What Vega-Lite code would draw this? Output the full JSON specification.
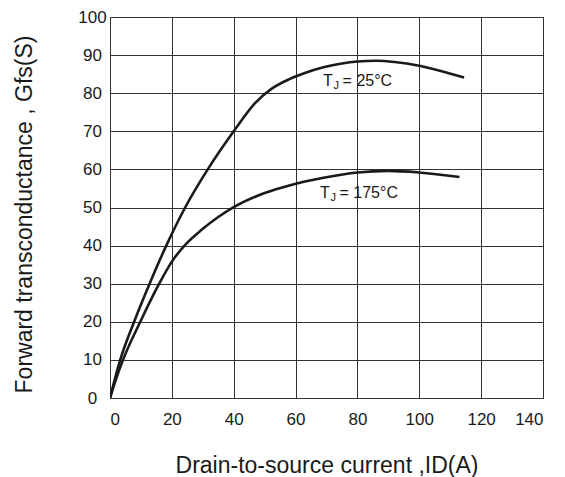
{
  "$schema": "https://vega.github.io/schema/vega-lite/v6.json",
  "width": 433,
  "height": 381,
  "autosize": {"type": "none"},
  "padding": {"left": 110, "top": 17, "right": 22, "bottom": 79},
  "background": "white",
  "config": {
    "font": "Liberation Sans",
    "view": {"stroke": "#333333", "strokeWidth": 1},
    "axis": {
      "grid": true,
      "gridColor": "#333333",
      "gridOpacity": 1,
      "gridWidth": 1,
      "domain": false,
      "ticks": false,
      "labelFont": "Liberation Sans",
      "labelFontSize": 17,
      "labelColor": "#1a1a1a",
      "labelOverlap": false,
      "titleFont": "Liberation Sans",
      "titleFontSize": 23,
      "titleFontWeight": "normal",
      "titleColor": "#1a1a1a"
    }
  },
  "datasets": {
    "curves": [
      {"id": 0, "tj": "25", "x": 0, "y": 0},
      {"id": 0, "tj": "25", "x": 1.5, "y": 4.8},
      {"id": 0, "tj": "25", "x": 3.3, "y": 10},
      {"id": 0, "tj": "25", "x": 7.8, "y": 20},
      {"id": 0, "tj": "25", "x": 12.8, "y": 30},
      {"id": 0, "tj": "25", "x": 18.2, "y": 40},
      {"id": 0, "tj": "25", "x": 24.3, "y": 50},
      {"id": 0, "tj": "25", "x": 31.6, "y": 60},
      {"id": 0, "tj": "25", "x": 40, "y": 70},
      {"id": 0, "tj": "25", "x": 46.9, "y": 77.4},
      {"id": 0, "tj": "25", "x": 52.3, "y": 81.2},
      {"id": 0, "tj": "25", "x": 58, "y": 83.7},
      {"id": 0, "tj": "25", "x": 63, "y": 85.3},
      {"id": 0, "tj": "25", "x": 69, "y": 86.8},
      {"id": 0, "tj": "25", "x": 75, "y": 87.8},
      {"id": 0, "tj": "25", "x": 80, "y": 88.3},
      {"id": 0, "tj": "25", "x": 86, "y": 88.5},
      {"id": 0, "tj": "25", "x": 92, "y": 88.2},
      {"id": 0, "tj": "25", "x": 100, "y": 87.2},
      {"id": 0, "tj": "25", "x": 107, "y": 85.8},
      {"id": 0, "tj": "25", "x": 114.5, "y": 84.1},
      {"id": 1, "tj": "175", "x": 0, "y": 0},
      {"id": 1, "tj": "175", "x": 1.8, "y": 4.6},
      {"id": 1, "tj": "175", "x": 4.2, "y": 10},
      {"id": 1, "tj": "175", "x": 9.8, "y": 20},
      {"id": 1, "tj": "175", "x": 15.9, "y": 30},
      {"id": 1, "tj": "175", "x": 20, "y": 35.8},
      {"id": 1, "tj": "175", "x": 24.3, "y": 40.2},
      {"id": 1, "tj": "175", "x": 29.7, "y": 44.2},
      {"id": 1, "tj": "175", "x": 35, "y": 47.5},
      {"id": 1, "tj": "175", "x": 40, "y": 50.1},
      {"id": 1, "tj": "175", "x": 50, "y": 53.8},
      {"id": 1, "tj": "175", "x": 58, "y": 55.8},
      {"id": 1, "tj": "175", "x": 69, "y": 57.8},
      {"id": 1, "tj": "175", "x": 80, "y": 59.2},
      {"id": 1, "tj": "175", "x": 90, "y": 59.6},
      {"id": 1, "tj": "175", "x": 100, "y": 59.2},
      {"id": 1, "tj": "175", "x": 113, "y": 58}
    ],
    "labels": [
      {"x": 68.9, "y": 82.0, "main": "T", "sub": "J", "rest": "= 25°C"},
      {"x": 67.9, "y": 52.6, "main": "T", "sub": "J", "rest": "= 175°C"}
    ]
  },
  "encoding": {
    "x": {
      "field": "x", "type": "quantitative",
      "scale": {"domain": [0, 140], "nice": false},
      "axis": {
        "values": [0, 20, 40, 60, 80, 100, 120, 140],
        "labelPadding": 13,
        "title": "Drain-to-source current ,ID(A)",
        "titleY": 56,
        "titleBaseline": "top"
      }
    },
    "y": {
      "field": "y", "type": "quantitative",
      "scale": {"domain": [0, 100], "nice": false},
      "axis": {
        "values": [0, 10, 20, 30, 40, 50, 60, 70, 80, 90, 100],
        "labelAlign": "center",
        "labelPadding": 18,
        "title": "Forward transconductance , Gfs(S)",
        "titleX": -79,
        "titleY": 197,
        "titleAlign": "center",
        "titleBaseline": "alphabetic",
        "titleAngle": -90
      }
    }
  },
  "layer": [
    {
      "data": {"name": "curves"},
      "mark": {"type": "line", "interpolate": "monotone", "color": "#1a1a1a", "strokeWidth": 2.6, "clip": true},
      "encoding": {
        "detail": {"field": "id", "type": "nominal"}
      }
    },
    {
      "data": {"name": "labels"},
      "mark": {"type": "text", "align": "left", "baseline": "alphabetic", "fontSize": 16, "color": "#1a1a1a"},
      "encoding": {
        "text": {"field": "main"}
      }
    },
    {
      "data": {"name": "labels"},
      "mark": {"type": "text", "align": "left", "baseline": "alphabetic", "fontSize": 11, "dx": 10.5, "dy": 3, "color": "#1a1a1a"},
      "encoding": {
        "text": {"field": "sub"}
      }
    },
    {
      "data": {"name": "labels"},
      "mark": {"type": "text", "align": "left", "baseline": "alphabetic", "fontSize": 16, "dx": 19.5, "color": "#1a1a1a"},
      "encoding": {
        "text": {"field": "rest"}
      }
    }
  ]
}
